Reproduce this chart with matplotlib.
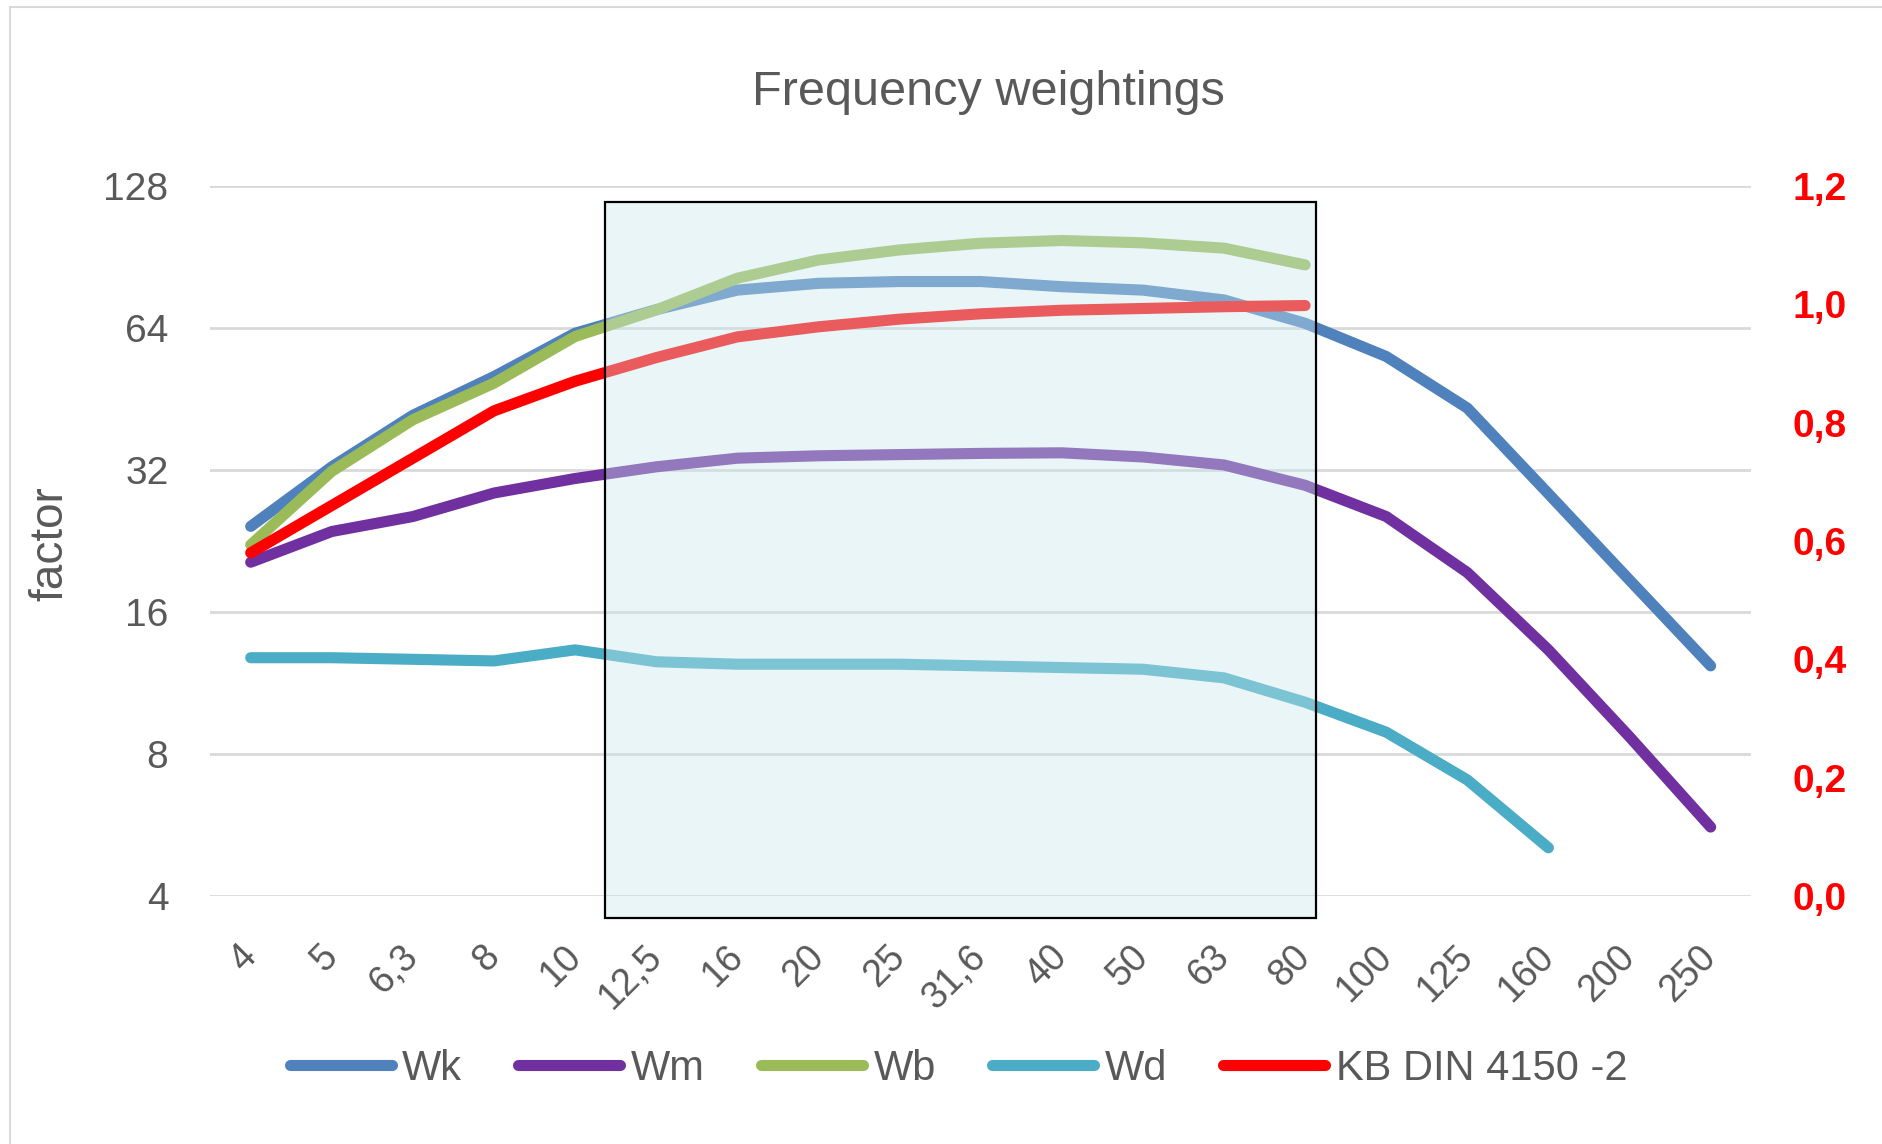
import matplotlib
matplotlib.use("Agg")
import matplotlib.pyplot as plt
from matplotlib.patches import Rectangle
from matplotlib.ticker import FixedLocator, FuncFormatter

plt.rcParams["font.family"] = ["Liberation Sans", "DejaVu Sans"]

# categories (Hz) as shown on the x axis
freqs = ["4", "5", "6,3", "8", "10", "12,5", "16", "20", "25", "31,6",
         "40", "50", "63", "80", "100", "125", "160", "200", "250"]

# weighting factors (left, log2 axis)
wk = [24.3, 32.5, 41.8, 50.5, 62.4, 70.0, 77.0, 79.6, 80.3, 80.3,
      78.3, 77.0, 73.4, 65.5, 55.7, 43.3, 28.5, 18.7, 12.3]
wm = [20.4, 23.7, 25.5, 28.6, 30.7, 32.5, 33.9, 34.3, 34.5, 34.7,
      34.8, 34.1, 32.8, 29.7, 25.5, 19.4, 13.3, 8.7, 5.6]
wb = [22.2, 31.8, 40.9, 48.9, 61.4, 69.9, 81.6, 89.2, 93.7, 96.8,
      98.1, 97.0, 94.5, 87.1]
wd = [12.8, 12.8, 12.7, 12.6, 13.3, 12.55, 12.4, 12.4, 12.4, 12.3,
      12.2, 12.1, 11.6, 10.3, 8.9, 7.05, 5.06]
# KB DIN 4150-2 (right axis)
kb = [0.58, 0.66, 0.74, 0.82, 0.87, 0.91, 0.945, 0.962, 0.975, 0.984,
      0.99, 0.993, 0.996, 0.998]

left_ticks = [4, 8, 16, 32, 64, 128]
right_ticks = [0.0, 0.2, 0.4, 0.6, 0.8, 1.0, 1.2]
box = (4.37, 13.14, 3.6, 118.5)  # highlighted range (x0, x1, y0, y1)

GREY = "#595959"
x = list(range(len(freqs)))

fig = plt.figure(figsize=(18.83, 11.44), dpi=100)
ax = fig.add_axes([0.1116, 0.2168, 0.8184, 0.6206])
ax2 = ax.twinx()

ax.set_yscale("log", base=2)
ax.set_ylim(4, 128)
ax.set_xlim(-0.5, len(freqs) - 0.5)
ax.yaxis.set_major_locator(FixedLocator(left_ticks))
ax.yaxis.set_minor_locator(FixedLocator([]))
ax.yaxis.set_major_formatter(FuncFormatter(lambda v, p: f"{v:g}"))
ax.grid(axis="y", color="#d9d9d9", lw=2)
ax.set_axisbelow(True)

lw = 8
l1, = ax.plot(x, wk, color="#4f81bd", lw=lw, label="Wk", solid_capstyle="round")
l2, = ax.plot(x, wm, color="#7030a0", lw=lw, label="Wm", solid_capstyle="round")
l3, = ax.plot(x[:len(wb)], wb, color="#9bbb59", lw=lw, label="Wb", solid_capstyle="round")
l4, = ax.plot(x[:len(wd)], wd, color="#4bacc6", lw=lw, label="Wd", solid_capstyle="round")
l5, = ax2.plot(x[:len(kb)], kb, color="#ff0000", lw=lw, label="KB DIN 4150 -2",
               solid_capstyle="round")

ax2.set_ylim(0, 1.2)
ax2.yaxis.set_major_locator(FixedLocator(right_ticks))
ax2.yaxis.set_major_formatter(FuncFormatter(lambda v, p: f"{v:.1f}".replace(".", ",")))

ax.set_xticks(x)
ax.set_xticklabels(freqs, rotation=45, ha="right", va="center", rotation_mode="anchor")

for a in (ax, ax2):
    for s in a.spines.values():
        s.set_visible(False)
ax.tick_params(axis="x", length=0, pad=40, labelsize=27, labelcolor=GREY)
ax.tick_params(axis="y", length=0, pad=30, labelsize=28, labelcolor=GREY)
ax2.tick_params(axis="y", length=0, pad=30, labelsize=28, labelcolor="#ff0000")
for t in ax2.get_yticklabels():
    t.set_fontweight("bold")

# highlighted frequency range drawn over the lines
ax2.add_patch(Rectangle((box[0], box[2]), box[1] - box[0], box[3] - box[2],
                        transform=ax.transData, facecolor="#c8e6ea", alpha=0.4,
                        edgecolor="none", zorder=10, clip_on=False))
ax2.add_patch(Rectangle((box[0], box[2]), box[1] - box[0], box[3] - box[2],
                        transform=ax.transData, fill=False, edgecolor="black",
                        lw=1.6, zorder=11, clip_on=False))

fig.text(0.525, 0.919, "Frequency weightings", ha="center", va="center",
         fontsize=35, color=GREY)
fig.text(0.0267, 0.525, "factor", ha="center", va="center", rotation=90,
         fontsize=33, color=GREY)

fig.legend(handles=[l1, l2, l3, l4, l5], loc="center", bbox_to_anchor=(0.509, 0.0656),
           ncol=5, frameon=False, fontsize=30, labelcolor=GREY, handlelength=2.45,
           handletextpad=0.25, columnspacing=1.35)

# outer chart border
fig.add_artist(Rectangle((10 / 1883, -0.05), 1.2, 1.05 - 7 / 1144,
                         transform=fig.transFigure, fill=False,
                         edgecolor="#d9d9d9", lw=1.5))

fig.savefig("out.png", dpi=100)
